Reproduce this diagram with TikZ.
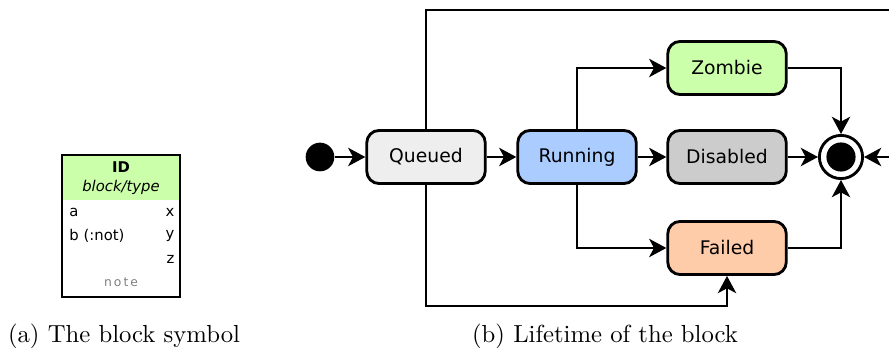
\documentclass[tikz,border=0pt]{standalone}
\usepackage{fontspec}
\newfontfamily\dejavu{DejaVu Sans}
\usetikzlibrary{arrows.meta}
\definecolor{cqueued}{HTML}{EEEEEE}
\definecolor{crunning}{HTML}{AACCFF}
\definecolor{czombie}{HTML}{CCFFAA}
\definecolor{cdisabled}{HTML}{CCCCCC}
\definecolor{cfailed}{HTML}{FFCCAA}
\begin{document}
\begin{tikzpicture}[x=0.405pt,y=-0.405pt,
  state/.style={draw, line width=1.15pt, rounded corners=5pt, minimum width=48pt, minimum height=21.5pt, inner sep=0pt, font=\dejavu\fontsize{7.6}{9}\selectfont},
  conn/.style={line width=0.6pt, -{Stealth[length=7pt,width=7.5pt,inset=2pt]}},
  plainline/.style={line width=0.6pt},
  blk/.style={font=\dejavu\fontsize{6}{7}\selectfont, inner sep=0pt},
  captext/.style={font=\fontsize{10}{12}\selectfont, inner sep=0pt}]
\clip (0,0) rectangle (889,351);
% block symbol
\fill[czombie] (62,155) rectangle (180,200);
\draw[line width=0.9pt] (62,155) rectangle (180,297);
\node[blk, font=\dejavu\bfseries\fontsize{6}{7}\selectfont] (id) at (121,167) {ID};
\node[blk, font=\dejavu\itshape\fontsize{6}{7}\selectfont] (type) at (121,187) {block/type};
\node[blk, anchor=west] (pa) at (69,212) {a};
\node[blk, anchor=west] (pb) at (69,236) {b (:not)};
\node[blk, anchor=east] (px) at (175,212) {x};
\node[blk, anchor=east] (py) at (175,236) {y};
\node[blk, anchor=east] (pz) at (175,259) {z};
\node[blk, text=gray, font=\dejavu\fontsize{5}{6}\selectfont] (note) at (121,282) {n\,o\,t\,e};
% states
\node[circle, fill=black, minimum size=11.6pt, inner sep=0pt] (init) at (320,157) {};
\node[state, fill=cqueued] (queued) at (426,157) {Queued};
\node[state, fill=crunning] (running) at (577,157) {Running};
\node[state, fill=czombie] (zombie) at (727,68) {Zombie};
\node[state, fill=cdisabled] (disabled) at (727,157) {Disabled};
\node[state, fill=cfailed] (failed) at (727,248) {Failed};
\node[circle, draw, line width=1.15pt, fill=white, minimum size=17.5pt, inner sep=0pt] (end) at (841,157) {};
\fill (end.center) circle (5.9pt);
\coordinate (far) at (920,157);
% connectors
\draw[conn] (init) -- (queued);
\draw[conn] (queued) -- (running);
\draw[conn] (running) -- (disabled);
\draw[conn] (disabled) -- (end);
\draw[conn] (running.north) |- (zombie.west);
\draw[conn] (running.south) |- (failed.west);
\draw[conn] (zombie.east) -| (end.north);
\draw[conn] (failed.east) -| (end.south);
\draw[conn] (queued.south) -- (426,306) -| (failed.south);
\draw[plainline] (queued.north) -- (426,10) -- (920,10);
\draw[conn] (far) -- (end.east);
% captions
\node[captext] (capa) at (124,336) {(a) The block symbol};
\node[captext] (capb) at (605,336) {(b) Lifetime of the block};
\end{tikzpicture}
\end{document}
